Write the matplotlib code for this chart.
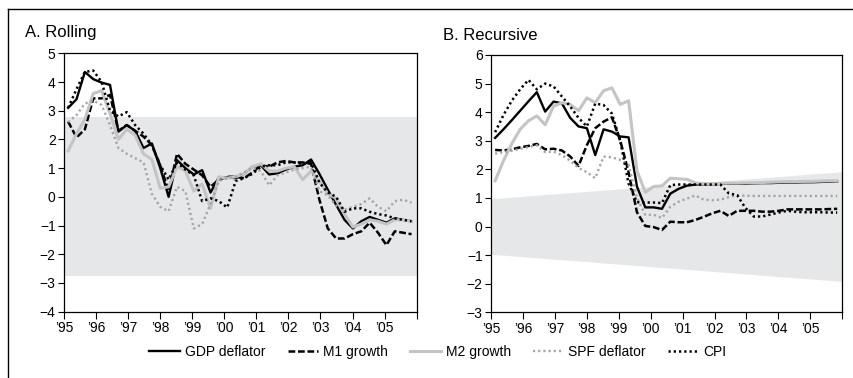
import numpy as np
import matplotlib
matplotlib.use('Agg')
import matplotlib.pyplot as plt
from matplotlib.lines import Line2D

plt.rcParams['font.family'] = ['Liberation Sans Narrow', 'Liberation Sans', 'DejaVu Sans']

# quarterly observations, 1995-2005
dates = np.linspace(1995.13, 2005.84, 42)

years = np.arange(1995, 2007)
year_labels = ['\u201995', '\u201996', '\u201997', '\u201998', '\u201999', '\u201900',
               '\u201901', '\u201902', '\u201903', '\u201904', '\u201905', '']

# Panel A: rolling
gdp_a = [3.1, 3.4, 4.35, 4.1, 3.98, 3.9, 2.27, 2.5, 2.3, 1.7, 1.86, 1.0, 0.0, 1.28,
         1.0, 0.78, 0.93, 0.15, 0.68, 0.68, 0.65, 0.8, 1.05, 1.1, 0.78, 0.82, 0.95,
         1.05, 1.1, 1.3, 0.8, 0.25, -0.28, -0.8, -1.1, -0.85, -0.7, -0.8, -0.9,
         -0.75, -0.8, -0.85]
m1_a = [2.62, 2.07, 2.35, 3.43, 3.43, 3.55, 2.3, 2.5, 2.3, 2.1, 1.8, 1.1, 0.2, 1.5,
        1.15, 0.95, 0.75, 0.35, 0.6, 0.7, 0.7, 0.65, 0.85, 1.1, 1.05, 1.2, 1.25,
        1.2, 1.2, 1.15, -0.1, -1.1, -1.45, -1.45, -1.3, -1.2, -0.9, -1.25, -1.68,
        -1.2, -1.25, -1.3]
m2_a = [1.6, 2.2, 2.7, 3.6, 3.7, 2.9, 2.0, 2.35, 2.15, 1.5, 1.3, 0.3, 0.35, 1.05,
        0.9, 0.2, 0.45, -0.4, 0.7, 0.65, 0.7, 0.8, 1.05, 1.15, 0.9, 0.9, 1.0, 1.05,
        0.6, 0.9, 0.55, 0.1, -0.05, -0.6, -1.05, -0.95, -0.8, -0.85, -0.95, -0.8,
        -0.8, -0.85]
spf_a = [2.6, 2.85, 3.25, 3.35, 3.2, 2.5, 1.7, 1.5, 1.35, 1.2, 0.1, -0.35, -0.5,
         0.35, 0.2, -1.1, -0.95, -0.25, 0.55, 0.65, 0.7, 0.85, 1.0, 0.9, 0.4, 0.75,
         0.85, 0.95, 1.0, 1.05, 0.2, 0.05, -0.3, -0.45, -0.35, -0.25, -0.05, -0.35,
         -0.5, -0.15, -0.1, -0.2]
cpi_a = [3.1, 3.75, 4.35, 4.4, 4.0, 3.0, 2.8, 2.95, 2.5, 2.2, 1.8, 1.1, 0.6, 1.2,
         0.95, 0.75, -0.15, -0.05, -0.15, -0.37, 0.55, 0.65, 0.8, 1.05, 1.1, 1.1,
         1.2, 1.2, 1.15, 1.2, 0.5, 0.15, 0.0, -0.52, -0.4, -0.4, -0.52, -0.6, -0.65,
         -0.75, -0.8, -0.85]
band_a = 2.77

# Panel B: recursive
gdp_b = [3.1, 3.4, 3.72, 4.05, 4.38, 4.7, 4.02, 4.37, 4.31, 3.8, 3.5, 3.44, 2.5, 3.4,
         3.32, 3.15, 3.12, 1.4, 0.67, 0.67, 0.62, 1.15, 1.32, 1.43, 1.47, 1.48, 1.48,
         1.49, 1.5, 1.5, 1.5, 1.51, 1.52, 1.52, 1.53, 1.54, 1.54, 1.55, 1.55, 1.56,
         1.57, 1.58]
m1_b = [2.68, 2.66, 2.7, 2.77, 2.82, 2.89, 2.7, 2.72, 2.66, 2.45, 2.12, 2.85, 3.44,
        3.67, 3.82, 3.0, 1.9, 0.5, 0.02, -0.02, -0.12, 0.17, 0.15, 0.15, 0.23, 0.34,
        0.46, 0.55, 0.37, 0.55, 0.55, 0.55, 0.52, 0.52, 0.55, 0.6, 0.6, 0.6, 0.6,
        0.6, 0.61, 0.62]
m2_b = [1.6, 2.3, 2.9, 3.4, 3.7, 3.87, 3.56, 4.21, 4.33, 4.27, 4.05, 4.5, 4.33, 4.75,
        4.85, 4.27, 4.4, 1.95, 1.2, 1.4, 1.42, 1.69, 1.67, 1.65, 1.53, 1.5, 1.5, 1.51,
        1.52, 1.52, 1.53, 1.53, 1.54, 1.55, 1.56, 1.57, 1.57, 1.58, 1.58, 1.59, 1.6,
        1.6]
spf_b = [2.55, 2.6, 2.65, 2.72, 2.78, 2.85, 2.6, 2.62, 2.5, 2.3, 2.05, 1.9, 1.69,
         2.45, 2.42, 2.33, 2.15, 1.0, 0.41, 0.41, 0.3, 0.69, 0.87, 0.98, 1.09, 0.94,
         0.92, 0.94, 1.03, 1.09, 1.08, 1.07, 1.07, 1.07, 1.07, 1.07, 1.07, 1.07,
         1.07, 1.07, 1.07, 1.07]
cpi_b = [3.3, 3.9, 4.4, 4.8, 5.13, 4.8, 5.0, 4.9, 4.55, 4.2, 3.8, 3.5, 4.3, 4.25,
         3.95, 3.0, 1.5, 0.85, 0.84, 0.84, 0.82, 1.45, 1.47, 1.47, 1.47, 1.47, 1.47,
         1.47, 1.16, 1.1, 0.65, 0.35, 0.35, 0.42, 0.49, 0.55, 0.52, 0.5, 0.5, 0.5,
         0.49, 0.49]
band_b_start = 0.97
band_b_end = 1.92

labels = ['GDP deflator', 'M1 growth', 'M2 growth', 'SPF deflator', 'CPI']
styles = [
    dict(color='black', lw=1.7, ls='-'),
    dict(color='black', lw=1.8, ls=(0, (2.7, 1.1))),
    dict(color='#c4c4c4', lw=2.2, ls='-'),
    dict(color='#a3a3a3', lw=1.7, ls=(0, (0.9, 1.3))),
    dict(color='black', lw=1.8, ls=(0, (0.9, 1.2))),
]
shade = '#e6e7e8'

fig = plt.figure(figsize=(8.54, 3.78), dpi=100)
ax1 = fig.add_axes([0.0749, 0.1754, 0.413, 0.6836])
ax2 = fig.add_axes([0.5749, 0.1738, 0.4114, 0.6807])

# shaded bands
ax1.fill_between([1995, 2006], [-band_a, -band_a], [band_a, band_a],
                 color=shade, lw=0, zorder=0)
ax2.fill_between([1995, 2006], [-band_b_start, -band_b_end],
                 [band_b_start, band_b_end], color=shade, lw=0, zorder=0)

series_a = [gdp_a, m1_a, m2_a, spf_a, cpi_a]
series_b = [gdp_b, m1_b, m2_b, spf_b, cpi_b]
order = [2, 3, 4, 1, 0]  # draw gray lines first
for k in order:
    ax1.plot(dates, series_a[k], zorder=2 + k, **styles[k])
    ax2.plot(dates, series_b[k], zorder=2 + k, **styles[k])

for ax, lo, hi in [(ax1, -4, 5), (ax2, -3, 6)]:
    ax.set_xlim(1995, 2006)
    ax.set_ylim(lo, hi)
    ax.set_yticks(range(lo, hi + 1))
    ax.set_xticks(years)
    ax.set_xticklabels(year_labels)
    ax.tick_params(axis='both', direction='out', labelsize=10, width=0.8, colors='black')
    ax.tick_params(axis='x', length=5, pad=2)
    ax.tick_params(axis='y', length=4, pad=2)
    for s in ax.spines.values():
        s.set_linewidth(0.9)

fig.text(25 / 854, 1 - 32 / 378, 'A. Rolling', fontsize=12, va='center', ha='left')
fig.text(443 / 854, 1 - 35 / 378, 'B. Recursive', fontsize=12, va='center', ha='left')

handles = [Line2D([0], [0], **styles[k]) for k in range(5)]
fig.legend(handles, labels, loc='center', bbox_to_anchor=(0.513, 0.069), ncol=5,
           frameon=False, fontsize=10, handlelength=2.2, handletextpad=0.35,
           columnspacing=1.6)

# outer frame (top and left edge)
fig.add_artist(Line2D([8 / 854, 1], [1 - 8.5 / 378, 1 - 8.5 / 378],
                      transform=fig.transFigure, color='black', lw=1))
fig.add_artist(Line2D([8 / 854, 8 / 854], [0, 1 - 8.5 / 378],
                      transform=fig.transFigure, color='black', lw=1))

fig.savefig('out.png', dpi=100)
